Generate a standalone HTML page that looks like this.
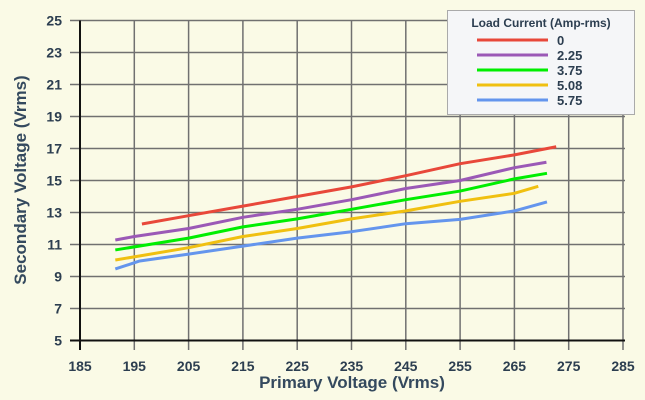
<!DOCTYPE html>
<html><head><meta charset="utf-8"><style>
body{margin:0;background:#fafae6;}
svg{display:block;font-family:"Liberation Sans",sans-serif;}
</style></head><body>
<svg width="645" height="400" viewBox="0 0 645 400">
<rect width="645" height="400" fill="#fafae6"/>
<g stroke="#707070" stroke-width="1.5" id="grid"></g>
<g id="series" fill="none" stroke-width="3" stroke-linejoin="round"></g>
<line x1="80" y1="20.5" x2="80" y2="350" stroke="#111" stroke-width="2"/>
<line x1="70" y1="340.5" x2="625" y2="340.5" stroke="#111" stroke-width="2"/>
<g id="labels" font-size="14" font-weight="bold" fill="#2c3e50"></g>
<text x="352" y="388" text-anchor="middle" font-size="17" font-weight="bold" fill="#34495e">Primary Voltage (Vrms)</text>
<text transform="translate(26,180) rotate(-90)" text-anchor="middle" font-size="17" font-weight="bold" fill="#34495e">Secondary Voltage (Vrms)</text>
<rect x="447.5" y="10.5" width="187" height="104" fill="#f5f6f8" stroke="#aaa" stroke-width="1"/>
<text x="541" y="27" text-anchor="middle" font-size="12" font-weight="bold" fill="#2c3e50">Load Current (Amp-rms)</text>
<g stroke-width="3">
<line x1="477" y1="40" x2="548" y2="40" stroke="#e8483a"/>
<line x1="477" y1="55" x2="548" y2="55" stroke="#9b59b6"/>
<line x1="477" y1="70" x2="548" y2="70" stroke="#00ee00"/>
<line x1="477" y1="85" x2="548" y2="85" stroke="#f0c010"/>
<line x1="477" y1="100" x2="548" y2="100" stroke="#6495ed"/>
</g>
<g font-size="13" font-weight="bold" fill="#2c3e50">
<text x="557" y="45">0</text><text x="557" y="60">2.25</text><text x="557" y="75">3.75</text><text x="557" y="90">5.08</text><text x="557" y="105">5.75</text>
</g>
</svg>
<script>
const X=v=>80+(v-185)*5.43, Y=v=>20.5+(25-v)*16;
const ns="http://www.w3.org/2000/svg";
const g=document.getElementById('grid'),lb=document.getElementById('labels');
function el(p,t,a){const e=document.createElementNS(ns,t);for(const k in a)e.setAttribute(k,a[k]);p.appendChild(e);return e;}
for(let v=5;v<=25;v+=2){const y=Y(v);el(g,'line',{x1:70,y1:y,x2:625,y2:y});const t=el(lb,'text',{x:62,y:y+5,'text-anchor':'end'});t.textContent=v;}
for(let v=185;v<=285;v+=10){const x=X(v);el(g,'line',{x1:x,y1:20.5,x2:x,y2:350});const t=el(lb,'text',{x:x,y:371,'text-anchor':'middle'});t.textContent=v;}
const S=[["#e8483a",[[196.4,12.28],[205,12.8],[215,13.4],[225,14.0],[235,14.6],[245,15.3],[255,16.05],[265,16.6],[272.7,17.11]]],
["#9b59b6",[[191.5,11.28],[195,11.5],[205,12.0],[215,12.7],[225,13.2],[235,13.8],[245,14.5],[255,15.0],[265,15.8],[270.9,16.14]]],
["#00ee00",[[191.5,10.66],[205,11.4],[215,12.1],[225,12.6],[235,13.2],[245,13.8],[255,14.34],[265,15.1],[271,15.45]]],
["#f0c010",[[191.5,10.03],[205,10.8],[215,11.5],[225,12.0],[235,12.6],[245,13.1],[255,13.7],[265,14.2],[269.4,14.64]]],
["#6495ed",[[191.5,9.47],[196,9.97],[205,10.4],[215,10.9],[225,11.4],[235,11.8],[245,12.3],[255,12.57],[265,13.1],[271,13.66]]]];
const sg=document.getElementById('series');
S.forEach(([c,p])=>el(sg,'polyline',{stroke:c,points:p.map(q=>X(q[0])+','+Y(q[1])).join(' ')}));
</script>
</body></html>
